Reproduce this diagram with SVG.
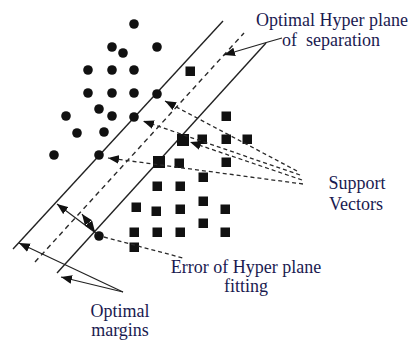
<svg xmlns="http://www.w3.org/2000/svg" width="412" height="348" viewBox="0 0 412 348">
<style>
.ln{stroke:#222;stroke-width:1.4;fill:none}
.ptr{stroke:#222;stroke-width:1.2;fill:none}
.ds{stroke:#2a2a2a;stroke-width:1.4;fill:none;stroke-dasharray:5 4}
.dt{stroke:#2a2a2a;stroke-width:1.3;fill:none;stroke-dasharray:4 3}
.dot{fill:#111}
.sq{fill:#111}
.lbl{font-family:"Liberation Serif","Times New Roman",serif;font-size:18px;fill:#1a1a50;text-anchor:middle}
</style>
<defs>
<marker id="ah" viewBox="0 0 10 8" refX="10" refY="4" markerWidth="11" markerHeight="9" markerUnits="userSpaceOnUse" orient="auto-start-reverse">
<path d="M0,0 L10,4 L0,8 z" fill="#111"/>
</marker>
</defs>
<rect width="412" height="348" fill="#fff"/>
<g id="hyperplanes">
<line class="ln" x1="13" y1="249" x2="223" y2="21"/>
<line class="ds" x1="35" y1="262" x2="244" y2="33"/>
<line class="ln" x1="57" y1="273" x2="266" y2="43"/>
</g>
<g id="class-circles">
<circle class="dot" cx="134" cy="24" r="4.8"/>
<circle class="dot" cx="112" cy="47" r="4.8"/>
<circle class="dot" cx="123" cy="53" r="4.8"/>
<circle class="dot" cx="157" cy="47" r="4.8"/>
<circle class="dot" cx="88" cy="70" r="4.8"/>
<circle class="dot" cx="112" cy="70" r="4.8"/>
<circle class="dot" cx="134" cy="70" r="4.8"/>
<circle class="dot" cx="88" cy="93" r="4.8"/>
<circle class="dot" cx="112" cy="93" r="4.8"/>
<circle class="dot" cx="134" cy="93" r="4.8"/>
<circle class="dot" cx="157" cy="94" r="4.8"/>
<circle class="dot" cx="99" cy="109" r="4.8"/>
<circle class="dot" cx="66" cy="116" r="4.8"/>
<circle class="dot" cx="112" cy="116" r="4.8"/>
<circle class="dot" cx="134" cy="117" r="4.8"/>
<circle class="dot" cx="77" cy="133" r="4.8"/>
<circle class="dot" cx="104" cy="132" r="4.8"/>
<circle class="dot" cx="54" cy="155" r="4.8"/>
<circle class="dot" cx="99" cy="155" r="4.8"/>
<circle class="dot" cx="99" cy="236" r="4.8"/>
</g>
<g id="class-squares">
<rect class="sq" x="185.5" y="66.5" width="9.5" height="9.5"/>
<rect class="sq" x="221.5" y="111.5" width="9.5" height="9.5"/>
<rect class="sq" x="177" y="134" width="12" height="12"/>
<rect class="sq" x="197.5" y="134.5" width="9.5" height="9.5"/>
<rect class="sq" x="221.5" y="134.5" width="9.5" height="9.5"/>
<rect class="sq" x="242.5" y="134.5" width="9.5" height="9.5"/>
<rect class="sq" x="153" y="156" width="12" height="12"/>
<rect class="sq" x="174.5" y="158.5" width="9.5" height="9.5"/>
<rect class="sq" x="221.5" y="157.5" width="9.5" height="9.5"/>
<rect class="sq" x="198.5" y="172.5" width="9.5" height="9.5"/>
<rect class="sq" x="152.5" y="181.5" width="9.5" height="9.5"/>
<rect class="sq" x="175.5" y="181.5" width="9.5" height="9.5"/>
<rect class="sq" x="131.5" y="202.5" width="9.5" height="9.5"/>
<rect class="sq" x="151.5" y="206.5" width="9.5" height="9.5"/>
<rect class="sq" x="175.5" y="204.5" width="9.5" height="9.5"/>
<rect class="sq" x="198.5" y="196.5" width="9.5" height="9.5"/>
<rect class="sq" x="220.5" y="204.5" width="9.5" height="9.5"/>
<rect class="sq" x="129.5" y="227.5" width="9.5" height="9.5"/>
<rect class="sq" x="152.5" y="227.5" width="9.5" height="9.5"/>
<rect class="sq" x="175.5" y="227.5" width="9.5" height="9.5"/>
<rect class="sq" x="198.5" y="218.5" width="9.5" height="9.5"/>
<rect class="sq" x="220.5" y="227.5" width="9.5" height="9.5"/>
<rect class="sq" x="129.5" y="242.5" width="9.5" height="9.5"/>
</g>
<g id="connectors">
<polyline class="ptr" points="282,38 268,42 224,55" marker-end="url(#ah)"/>
<line class="dt" x1="297" y1="171" x2="165" y2="101" marker-end="url(#ah)"/>
<line class="dt" x1="300" y1="175" x2="143" y2="121" marker-end="url(#ah)"/>
<line class="dt" x1="302" y1="180" x2="190" y2="142" marker-end="url(#ah)"/>
<line class="dt" x1="303" y1="184" x2="108" y2="158" marker-end="url(#ah)"/>
<line class="dt" x1="104" y1="237" x2="183" y2="258"/>
<line class="ptr" x1="97" y1="234" x2="57" y2="204" marker-end="url(#ah)"/>
<line class="ptr" x1="82" y1="214" x2="95" y2="232" marker-start="url(#ah)" marker-end="url(#ah)"/>
<line class="ptr" x1="123" y1="292" x2="19" y2="243" marker-end="url(#ah)"/>
<line class="ptr" x1="123" y1="292" x2="61" y2="277" marker-end="url(#ah)"/>
</g>
<g id="label-hyperplane">
<text class="lbl" x="332" y="26">Optimal Hyper plane</text>
<text class="lbl" x="331" y="46" xml:space="preserve">of  separation</text>
</g>
<g id="label-support">
<text class="lbl" x="357" y="189">Support</text>
<text class="lbl" x="356" y="210">Vectors</text>
</g>
<g id="label-error">
<text class="lbl" x="246" y="273">Error of Hyper plane</text>
<text class="lbl" x="246" y="292">fitting</text>
</g>
<g id="label-margins">
<text class="lbl" x="120" y="317">Optimal</text>
<text class="lbl" x="120" y="336">margins</text>
</g>
</svg>
